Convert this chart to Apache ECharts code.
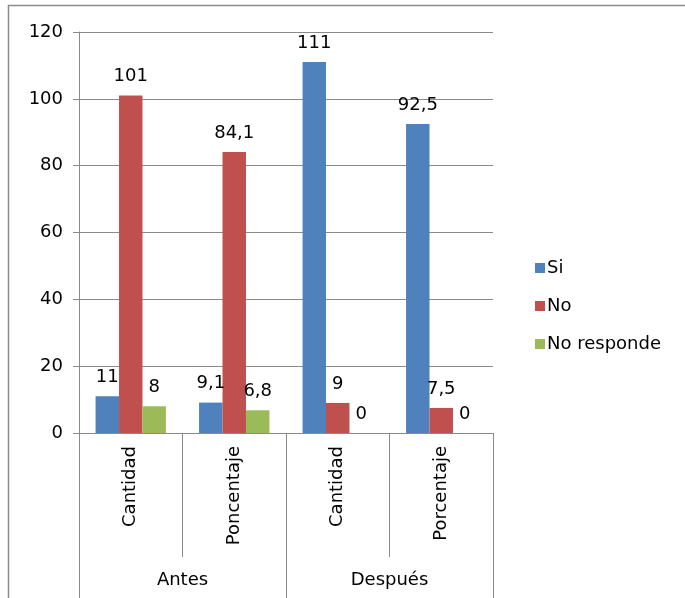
<!DOCTYPE html>
<html>
<head>
<meta charset="utf-8">
<style>
  html, body { margin: 0; padding: 0; background: #fff; }
  #chart { width: 685px; height: 598px; }
</style>
<script src="https://cdn.jsdelivr.net/npm/echarts@6/dist/echarts.min.js"></script>
</head>
<body>
<div id="chart"></div>
<script>
// Sub-categories (inner axis row) and their groups (outer axis row)
const categories = ['Cantidad', 'Poncentaje', 'Cantidad', 'Porcentaje'];
const groups = ['Antes', 'Después'];

// Series values
const seriesNames = ['Si', 'No', 'No responde'];
const siValues = [11, 9.1, 111, 92.5];
const noValues = [101, 84.1, 9, 7.5];
const noRespondeValues = [8, 6.8, 0, 0];

// Value axis ticks
const yTicks = [0, 20, 40, 60, 80, 100, 120];

const colors = ['#4F81BD', '#C0504D', '#9BBB59'];
const FONT = 'DejaVu Sans';
const FS = 18;
const GRAY = '#8a8a8a';

const chart = echarts.init(document.getElementById('chart'));

function barSeries(name, data, color) {
  return {
    name: name,
    type: 'bar',
    data: data,
    xAxisIndex: 0,
    barCategoryGap: '32%',
    barGap: '0%',
    itemStyle: { color: color },
    label: {
      show: true,
      position: 'top',
      distance: 10,
      color: '#000',
      fontFamily: FONT,
      fontSize: FS,
      formatter: p => String(p.value).replace('.', ',')
    }
  };
}

chart.setOption({
  animation: false,
  backgroundColor: '#fff',
  textStyle: { fontFamily: FONT },
  graphic: [{
    type: 'rect',
    shape: { x: 8.5, y: 5.5, width: 800, height: 800 },
    style: { fill: 'none', stroke: '#8c8c8c', lineWidth: 1.5 },
    silent: true
  }],
  grid: { left: 79, right: 192, top: 32, bottom: 165 },
  legend: {
    orient: 'vertical',
    left: 530,
    top: 254,
    itemWidth: 10,
    itemHeight: 10,
    itemGap: 20,
    icon: 'rect',
    textStyle: { fontFamily: FONT, fontSize: FS, color: '#000', padding: [0, 0, 0, -3] },
    data: seriesNames
  },
  xAxis: [
    {
      type: 'category',
      data: categories,
      position: 'bottom',
      axisLine: { show: true, lineStyle: { color: GRAY, width: 1 } },
      axisTick: { show: true, length: 124, interval: 0, lineStyle: { color: GRAY } },
      axisLabel: {
        rotate: 90, interval: 0, margin: 13,
        fontFamily: FONT, fontSize: FS, color: '#000'
      },
      splitLine: { show: false }
    },
    {
      type: 'category',
      data: groups,
      position: 'bottom',
      gridIndex: 0,
      axisLine: { show: false },
      axisTick: { show: true, length: 165, interval: 0, lineStyle: { color: GRAY } },
      axisLabel: {
        interval: 0, margin: 138,
        fontFamily: FONT, fontSize: FS, color: '#000'
      },
      splitLine: { show: false }
    }
  ],
  yAxis: {
    type: 'value',
    min: yTicks[0],
    max: yTicks[yTicks.length - 1],
    interval: yTicks[1] - yTicks[0],
    axisLine: { show: true, lineStyle: { color: GRAY } },
    axisTick: { show: true, length: 6, lineStyle: { color: GRAY } },
    axisLabel: { margin: 16, fontFamily: FONT, fontSize: FS, color: '#000' },
    splitLine: { show: true, lineStyle: { color: GRAY, width: 1 } }
  },
  series: [
    barSeries(seriesNames[0], siValues, colors[0]),
    barSeries(seriesNames[1], noValues, colors[1]),
    barSeries(seriesNames[2], noRespondeValues, colors[2])
  ]
});
</script>
</body>
</html>
